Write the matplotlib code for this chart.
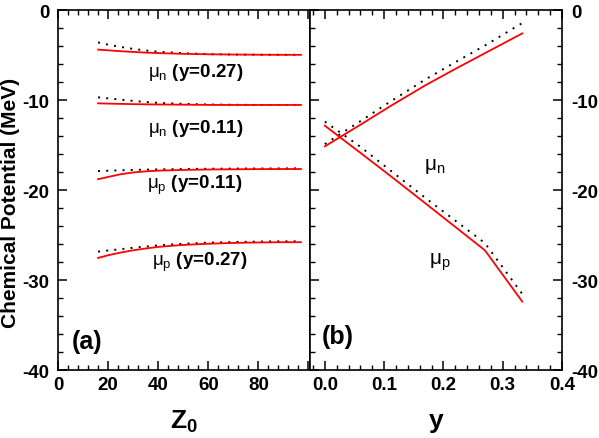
import matplotlib
matplotlib.use("Agg")
import matplotlib.pyplot as plt
from matplotlib.ticker import MultipleLocator, FixedLocator

plt.rcParams['font.family'] = ['Liberation Sans', 'DejaVu Sans']
plt.rcParams['mathtext.fontset'] = 'custom'
plt.rcParams['mathtext.rm'] = 'Liberation Sans'
plt.rcParams['mathtext.it'] = 'Liberation Sans:italic'
plt.rcParams['mathtext.bf'] = 'Liberation Sans:bold'
plt.rcParams['axes.unicode_minus'] = False

# ---------------- data: panel (a) ----------------
z0 = [16, 20, 25, 30, 35, 40, 50, 60, 70, 80, 90, 97]
mun_027_red = [-4.40, -4.48, -4.58, -4.66, -4.73, -4.79, -4.87, -4.92, -4.95, -4.97, -4.98, -4.98]
mun_027_dot = [-3.60, -3.85, -4.10, -4.32, -4.50, -4.63, -4.80, -4.90, -4.95, -4.97, -4.98, -4.98]
mun_011_red = [-10.37, -10.40, -10.43, -10.46, -10.48, -10.50, -10.52, -10.54, -10.55, -10.55, -10.55, -10.55]
mun_011_dot = [-9.70, -9.82, -9.96, -10.10, -10.22, -10.32, -10.43, -10.50, -10.53, -10.55, -10.55, -10.55]
mup_011_red = [-18.80, -18.55, -18.25, -18.05, -17.93, -17.85, -17.77, -17.72, -17.70, -17.68, -17.67, -17.67]
mup_011_dot = [-17.90, -17.86, -17.81, -17.77, -17.74, -17.71, -17.67, -17.64, -17.62, -17.61, -17.60, -17.60]
mup_027_red = [-27.55, -27.25, -26.95, -26.70, -26.50, -26.32, -26.10, -25.97, -25.88, -25.83, -25.80, -25.80]
mup_027_dot = [-26.85, -26.72, -26.58, -26.42, -26.28, -26.15, -25.97, -25.85, -25.78, -25.73, -25.70, -25.70]

# ---------------- data: panel (b) ----------------
yfrac = [0.0, 0.06, 0.11, 0.17, 0.22, 0.27, 0.333]
mun_red = [-15.15, -12.75, -10.70, -8.35, -6.55, -4.80, -2.60]
mun_dot = [-14.90, -12.35, -10.20, -7.70, -5.80, -3.95, -1.45]
mup_red = [-12.85, -15.87, -18.40, -21.50, -24.10, -26.70, -32.40]
mup_dot = [-12.40, -15.20, -17.80, -20.90, -23.40, -25.90, -31.55]

left_labels = [r'$\mathrm{\mu_n}$ (y=0.27)', r'$\mathrm{\mu_n}$ (y=0.11)',
               r'$\mathrm{\mu_p}$ (y=0.11)', r'$\mathrm{\mu_p}$ (y=0.27)']
left_label_pos = [(55, -6.8), (55, -13.0), (54.5, -19.4), (56.5, -27.9)]
ytick_vals = [0, -10, -20, -30, -40]
ytick_text = ['0', '-10', '-20', '-30', '-40']

fig = plt.figure(figsize=(5.99, 4.39), dpi=100)
W, H = 599.0, 439.0
bot = (H - 371) / H
hgt = 360 / H
axa = fig.add_axes([58 / W, bot, 252 / W, hgt])
axb = fig.add_axes([310 / W, bot, 252 / W, hgt])

red = '#ff0000'
dot_style = dict(color='black', lw=1.4, linestyle=(0, (1.0, 3.2)))
red_style = dict(color=red, lw=1.3)

for r, d in [(mun_027_red, mun_027_dot), (mun_011_red, mun_011_dot),
             (mup_011_red, mup_011_dot), (mup_027_red, mup_027_dot)]:
    axa.plot(z0, d, **dot_style)
    axa.plot(z0, r, **red_style)

for txt, (x, y) in zip(left_labels, left_label_pos):
    axa.text(x, y, txt, ha='center', va='center', fontsize=13.5, fontweight='bold')

axb.plot(yfrac, mun_dot, **dot_style)
axb.plot(yfrac, mup_dot, **dot_style)
axb.plot(yfrac, mun_red, **red_style)
axb.plot(yfrac, mup_red, **red_style)
axb.text(0.186, -17.3, r'$\mathrm{\mu_n}$', ha='center', va='center', fontsize=15)
axb.text(0.194, -27.9, r'$\mathrm{\mu_p}$', ha='center', va='center', fontsize=15)

axa.text(0.055, 0.08, '(a)', transform=axa.transAxes, ha='left', va='center',
         fontsize=18, fontweight='bold')
axb.text(0.046, 0.095, '(b)', transform=axb.transAxes, ha='left', va='center',
         fontsize=18, fontweight='bold')

axa.set_xlim(0, 100.6)
axb.set_xlim(-0.025, 0.4)
for ax in (axa, axb):
    ax.set_ylim(-40, 0)
    ax.yaxis.set_major_locator(FixedLocator(ytick_vals))
    ax.yaxis.set_minor_locator(MultipleLocator(2))
    for s in ax.spines.values():
        s.set_linewidth(1.2)
    ax.tick_params(which='major', direction='in', length=6.5, width=1.1,
                   labelsize=13.5)
    ax.tick_params(which='minor', direction='in', length=3.5, width=1.0)

axa.xaxis.set_major_locator(FixedLocator([0, 20, 40, 60, 80, 100]))
axa.xaxis.set_minor_locator(MultipleLocator(4))
axa.set_xticklabels(['0', '20', '40', '60', '80', ''])
axa.set_yticklabels(ytick_text)
axa.tick_params(which='both', top=True, right=False, left=True, bottom=True)
axa.tick_params(axis='y', pad=6)
axa.tick_params(axis='x', pad=4)

axb.xaxis.set_major_locator(FixedLocator([0.0, 0.1, 0.2, 0.3, 0.4]))
axb.xaxis.set_minor_locator(MultipleLocator(0.02))
axb.set_xticklabels(['0.0', '0.1', '0.2', '0.3', '0.4'])
axb.tick_params(which='both', top=True, right=True, left=True, bottom=True,
                labelleft=False, labelright=True)
axb.set_yticklabels(ytick_text)
axb.tick_params(axis='y', pad=7)
axb.tick_params(axis='x', pad=4)

for ax in (axa, axb):
    for lab in ax.get_xticklabels() + ax.get_yticklabels():
        lab.set_fontweight('bold')

axa.set_ylabel('Chemical Potential (MeV)', fontsize=15, fontweight='bold')
axa.yaxis.set_label_coords(-0.15, 0.467)
axa.set_xlabel(r'$\mathbf{Z_0}$', fontsize=19, labelpad=11)
axb.set_xlabel('y', fontsize=19, fontweight='bold', labelpad=11)

fig.savefig('out.png', dpi=100)
